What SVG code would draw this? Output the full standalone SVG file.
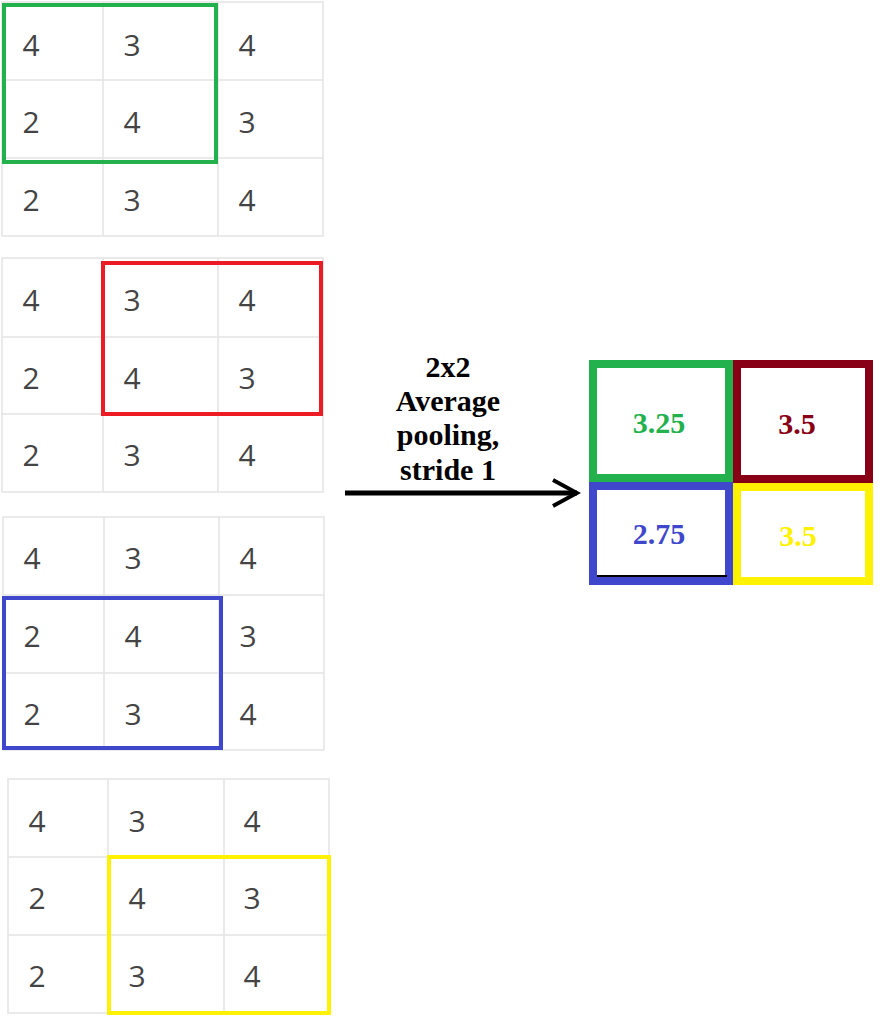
<svg xmlns="http://www.w3.org/2000/svg" width="881" height="1018" viewBox="0 0 881 1018">
<style>
.grid{fill:none;stroke:#e4e4e4;stroke-width:1.5}
.d{font-family:"Open Sans","Noto Sans",sans-serif;font-size:30px;fill:#444;text-anchor:middle}
.win{fill:none;stroke-width:4}
.out{fill:#fff;stroke-width:8}
.v{font-family:"Liberation Serif","Times New Roman",serif;font-weight:bold;font-size:30px;text-anchor:middle}
.lbl{font-family:"Liberation Serif","Times New Roman",serif;font-weight:bold;font-size:30px;text-anchor:middle;fill:#000}
</style>
<defs>
<marker id="chev" viewBox="0 0 30 30" refX="26" refY="15" markerWidth="30" markerHeight="30" markerUnits="userSpaceOnUse" orient="auto">
<polyline points="2,2 26,15 2,28" fill="none" stroke="#000" stroke-width="4"/>
</marker>
</defs>
<rect width="881" height="1018" fill="#fff"/>

<g id="grid1">
<path class="grid" d="M2,2H323V236H2Z M103,2V236 M218,2V236 M2,80H323 M2,158H323"/>
<text class="d" x="31" y="56">4</text><text class="d" x="132" y="56">3</text><text class="d" x="247" y="56">4</text>
<text class="d" x="31" y="133">2</text><text class="d" x="132" y="133">4</text><text class="d" x="247" y="133">3</text>
<text class="d" x="31" y="211">2</text><text class="d" x="132" y="211">3</text><text class="d" x="247" y="211">4</text>
<rect class="win" x="4" y="5" width="212" height="157" stroke="#22b14c"/>
</g>

<g id="grid2">
<path class="grid" d="M2,258H323V492H2Z M103,258V492 M218,258V492 M2,337H323 M2,414H323"/>
<text class="d" x="31" y="311">4</text><text class="d" x="132" y="311">3</text><text class="d" x="247" y="311">4</text>
<text class="d" x="31" y="389">2</text><text class="d" x="132" y="389">4</text><text class="d" x="247" y="389">3</text>
<text class="d" x="31" y="466">2</text><text class="d" x="132" y="466">3</text><text class="d" x="247" y="466">4</text>
<rect class="win" x="103" y="263" width="218" height="151" stroke="#ed1c24"/>
</g>

<g id="grid3">
<path class="grid" d="M3,517H324V750H3Z M104,517V750 M219,517V750 M3,595H324 M3,673H324"/>
<text class="d" x="32" y="569">4</text><text class="d" x="133" y="569">3</text><text class="d" x="248" y="569">4</text>
<text class="d" x="32" y="647">2</text><text class="d" x="133" y="647">4</text><text class="d" x="248" y="647">3</text>
<text class="d" x="32" y="725">2</text><text class="d" x="133" y="725">3</text><text class="d" x="248" y="725">4</text>
<rect class="win" x="4" y="598" width="217" height="150" stroke="#3f48cc"/>
</g>

<g id="grid4">
<path class="grid" d="M8,779H329V1013H8Z M108,779V1013 M224,779V1013 M8,857H329 M8,935H329"/>
<text class="d" x="37" y="832">4</text><text class="d" x="137" y="832">3</text><text class="d" x="252" y="832">4</text>
<text class="d" x="37" y="909">2</text><text class="d" x="137" y="909">4</text><text class="d" x="252" y="909">3</text>
<text class="d" x="37" y="987">2</text><text class="d" x="137" y="987">3</text><text class="d" x="252" y="987">4</text>
<rect class="win" x="109" y="857" width="220" height="156" stroke="#fff200"/>
</g>

<g id="label">
<text class="lbl" x="448" y="377">2x2</text>
<text class="lbl" x="448" y="411">Average</text>
<text class="lbl" x="448" y="445">pooling,</text>
<text class="lbl" x="448" y="480">stride 1</text>
</g>

<g id="connectors">
<line x1="345" y1="493" x2="577" y2="493" stroke="#000" stroke-width="5" marker-end="url(#chev)"/>
</g>

<g id="out-green">
<rect class="out" x="593" y="364" width="136" height="114" stroke="#22b14c"/>
<text class="v" x="659" y="433" fill="#22b14c">3.25</text>
</g>
<g id="out-darkred">
<rect class="out" x="737" y="364" width="132" height="115" stroke="#880015"/>
<text class="v" x="797" y="434" fill="#880015">3.5</text>
</g>
<g id="out-blue">
<rect class="out" x="593" y="486" width="136" height="95" stroke="#3f48cc"/>
<line x1="597" y1="576" x2="727" y2="576" stroke="#000" stroke-width="2"/>
<text class="v" x="659" y="544" fill="#3f48cc">2.75</text>
</g>
<g id="out-yellow">
<rect class="out" x="737" y="487" width="132" height="94" stroke="#fff200"/>
<text class="v" x="798" y="546" fill="#fff200">3.5</text>
</g>
</svg>
